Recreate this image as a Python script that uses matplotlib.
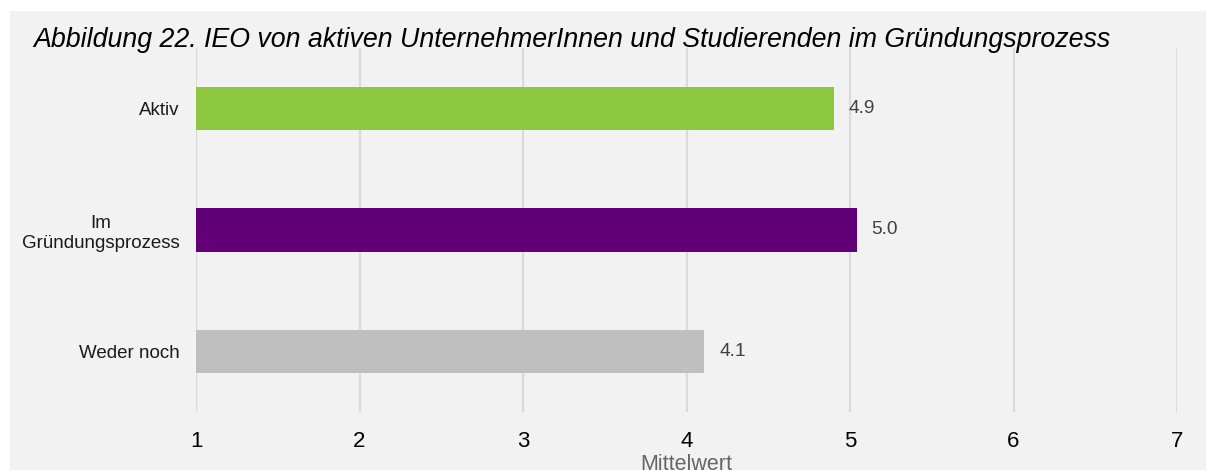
import matplotlib.pyplot as plt
from matplotlib.patches import Rectangle

plt.rcParams['font.family'] = ['Liberation Sans', 'DejaVu Sans']

# data
categories = ['Aktiv', 'Im\nGründungsprozess', 'Weder noch']
values = [4.90, 5.04, 4.11]
colors = ['#8dc63f', '#620077', '#bfbfbf']
xticks = [1, 2, 3, 4, 5, 6, 7]

W, H = 1206, 470
fig = plt.figure(figsize=(W / 100, H / 100), dpi=100)
fig.patch.set_facecolor('white')
# grey panel behind the chart
fig.patches.append(Rectangle((10 / W, 0), 1 - 10 / W, 1 - 11 / H,
                             transform=fig.transFigure, facecolor='#f2f2f2',
                             edgecolor='none', zorder=-10))

ax = fig.add_axes([196 / W, 1 - 412 / H, (1177 - 196) / W, (412 - 48) / H])
ax.set_facecolor('none')

ypos = list(range(len(categories)))
ax.barh(ypos, [v - 1 for v in values], left=1, height=0.355, color=colors, zorder=3)
for y, v in zip(ypos, values):
    ax.text(v + 0.09, y, f'{v:.1f}', va='center', ha='left', fontsize=13.8,
            color='#404040', zorder=4)

ax.set_xlim(1, 7)
ax.set_ylim(2.5, -0.5)
ax.set_xticks(xticks)
ax.set_yticks(ypos)
ax.set_yticklabels(categories)
for lbl in ax.get_yticklabels():
    lbl.set_multialignment('center')
ax.tick_params(axis='y', length=0, pad=12, labelsize=13.5, colors='#1a1a1a')
ax.tick_params(axis='x', length=0, pad=14, labelsize=16, colors='#000000')
ax.xaxis.grid(True, color='#dadada', linewidth=1.6, zorder=1)
ax.set_axisbelow(True)
for s in ax.spines.values():
    s.set_visible(False)

ax.set_xlabel('Mittelwert', fontsize=15.5, color='#666666', labelpad=1)

fig.text(33 / W, 1 - 40 / H,
         'Abbildung 22. IEO von aktiven UnternehmerInnen und Studierenden im Gründungsprozess',
         fontsize=19.3, style='italic', va='center', ha='left', color='#000000')

fig.savefig('out.png', dpi=100, facecolor=fig.get_facecolor())
